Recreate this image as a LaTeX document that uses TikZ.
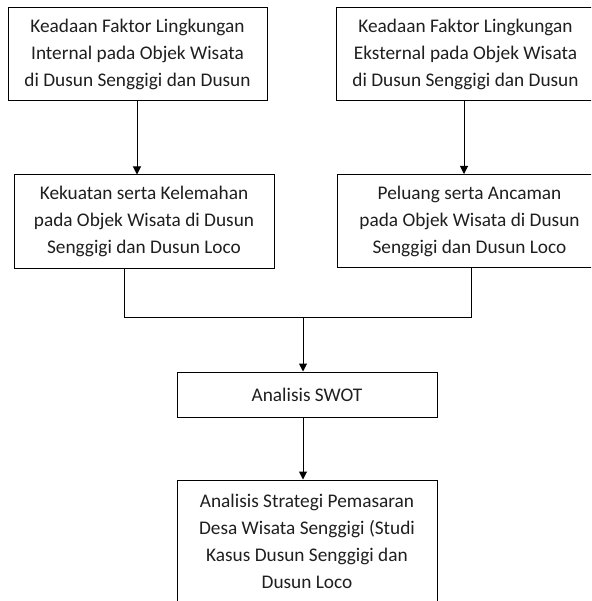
\documentclass[tikz,border=0pt]{standalone}
\usepackage{fontspec}
\setmainfont{Carlito}
\usetikzlibrary{arrows.meta}
\tikzset{
  box/.style={draw=black, line width=1pt, inner sep=0pt, align=center,
    text=black!88, font=\fontsize{19.3pt}{27pt}\selectfont},
  conn/.style={line width=1pt, draw=black},
  arr/.style={conn, -{Triangle[width=8pt,length=8pt]}}
}
\begin{document}
\begin{tikzpicture}[x=1pt,y=-1pt]
\path[use as bounding box, clip] (0,0) rectangle (591,601);
\fill[white] (0,0) rectangle (591,601);
\node[box, minimum width=259pt, minimum height=93pt] (b1) at (137.5,54.5)
  {Keadaan Faktor Lingkungan\\Internal pada Objek Wisata\\di Dusun Senggigi dan Dusun};
\node[box, minimum width=259pt, minimum height=93pt] (b3) at (465.5,54.5)
  {Keadaan Faktor Lingkungan\\Eksternal pada Objek Wisata\\di Dusun Senggigi dan Dusun};
\node[box, minimum width=260pt, minimum height=93pt] (b2) at (144,221.5)
  {Kekuatan serta Kelemahan\\pada Objek Wisata di Dusun\\Senggigi dan Dusun Loco};
\node[box, minimum width=265pt, minimum height=93pt] (b4) at (469.5,221)
  {Peluang serta Ancaman\\pada Objek Wisata di Dusun\\Senggigi dan Dusun Loco};
\node[box, minimum width=260pt, minimum height=45pt] (swot) at (307,394.5)
  {Analisis SWOT};
\node[box, minimum width=260pt, minimum height=122pt] (fin) at (307,541)
  {Analisis Strategi Pemasaran\\Desa Wisata Senggigi (Studi\\Kasus Dusun Senggigi dan\\Dusun Loco};
\coordinate (a1) at (137,0);
\coordinate (a2) at (464,0);
\coordinate (jl) at (124,317);
\coordinate (jr) at (471,317);
\coordinate (jm) at (303,317);
\draw[arr] (b1.south -| a1) -- (b2.north -| a1);
\draw[arr] (b3.south -| a2) -- (b4.north -| a2);
\draw[conn] (b2.south -| jl) -- (jl) -- (jr) -- (b4.south -| jr);
\draw[arr] (jm) -- (swot.north -| jm);
\draw[arr] (swot.south -| jm) -- (fin.north -| jm);
\end{tikzpicture}
\end{document}
